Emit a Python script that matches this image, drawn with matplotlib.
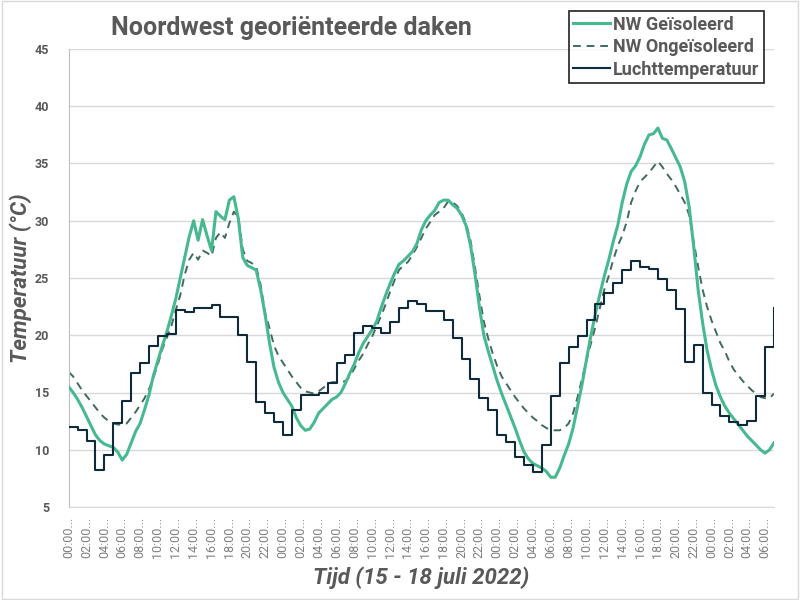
import numpy as np
import matplotlib
matplotlib.use("Agg")
import matplotlib.pyplot as plt
from matplotlib.patches import Rectangle

plt.rcParams['font.family'] = ['Roboto', 'DejaVu Sans']

# dakoppervlak temperaturen, elk half uur vanaf 15 juli 00:00
geisoleerd = [
    15.5, 15.0, 14.4, 13.7, 12.9, 12.1, 11.3, 10.8, 10.5, 10.35, 10.2, 9.8, 9.1, 9.6,
    10.6, 11.6, 12.3, 13.5, 14.8, 16.5, 17.8, 19.1, 20.3, 21.7, 23.2, 25.0, 26.8, 28.6,
    30.0, 28.3, 30.1, 28.7, 27.4, 30.8, 30.4, 30.1, 31.8, 32.1, 30.2, 26.8, 26.1, 25.9,
    25.7, 24.0, 21.8, 19.3, 17.2, 15.9, 15.0, 14.4, 13.8, 12.8, 12.1, 11.7, 11.8, 12.4,
    13.2, 13.6, 14.0, 14.4, 14.6, 15.0, 15.8, 16.7, 17.5, 18.5, 19.3, 19.9, 20.5, 21.2,
    22.4, 23.5, 24.5, 25.4, 26.2, 26.5, 26.9, 27.3, 28.0, 29.2, 30.0, 30.5, 30.9, 31.6,
    31.8, 31.8, 31.4, 31.1, 30.5, 29.6, 27.9, 25.4, 22.5, 20.0, 18.6, 17.3, 16.0, 14.9,
    13.9, 12.9, 11.9, 10.8, 9.8, 9.2, 8.8, 8.6, 8.4, 8.1, 7.6, 7.6, 8.4, 9.5,
    10.5, 11.9, 13.8, 15.7, 17.9, 20.0, 21.9, 23.6, 25.2, 26.6, 28.2, 29.6, 31.6, 33.2,
    34.3, 34.8, 35.6, 36.7, 37.5, 37.6, 38.1, 37.2, 37.05, 36.3, 35.5, 34.7, 33.4, 31.2,
    27.8, 24.0, 21.1, 18.7, 17.0, 15.6, 14.6, 13.8, 13.2, 12.7, 12.2, 11.7, 11.2, 10.8,
    10.4, 10.0, 9.7, 10.0, 10.6,
]
ongeisoleerd = [
    16.8, 16.4, 15.8, 15.2, 14.7, 14.2, 13.7, 13.2, 12.8, 12.5, 12.3, 12.2, 12.2, 12.3,
    12.8, 13.3, 13.9, 14.5, 15.3, 16.3, 17.5, 18.8, 19.8, 20.8, 22.2, 23.5, 25.3, 26.6,
    27.2, 26.6, 27.4, 27.2, 26.9, 28.5, 29.0, 28.5, 29.8, 30.8, 30.3, 27.5, 26.5, 26.3,
    26.0, 24.4, 22.0, 20.6, 19.1, 18.2, 17.6, 17.0, 16.4, 15.9, 15.4, 15.1, 15.0, 14.9,
    15.1, 15.4, 15.7, 15.9, 15.9, 15.9, 16.0, 16.4, 17.1, 17.8, 18.4, 19.2, 19.9, 20.8,
    21.7, 22.7, 23.8, 24.8, 25.7, 26.1, 26.4, 27.0, 27.7, 28.5, 29.3, 29.9, 30.5, 30.8,
    31.1, 31.7, 31.6, 31.3, 30.7, 29.8, 28.3, 26.0, 23.5, 21.2, 19.7, 18.4, 17.3, 16.4,
    15.8, 15.2, 14.6, 14.1, 13.6, 13.2, 12.8, 12.5, 12.15, 11.9, 11.7, 11.7, 11.7, 11.9,
    12.3, 13.2, 14.6, 16.2, 17.8, 19.3, 20.75, 22.4, 24.0, 25.2, 26.6, 27.8, 28.7, 29.9,
    31.6, 32.6, 33.4, 33.8, 34.2, 34.7, 35.2, 34.7, 34.1, 33.6, 33.0, 32.3, 31.6, 30.5,
    28.2, 26.0, 24.0, 22.5, 21.3, 20.3, 19.3, 18.6, 17.7, 17.0, 16.5, 16.0, 15.6, 15.2,
    14.9, 14.6, 14.5, 14.5, 14.9,
]
# luchttemperatuur, uurwaarden
lucht = [
    12.0, 11.7, 10.8, 8.2, 9.5, 12.3, 14.3, 16.7, 17.55, 19.05, 19.9, 20.1, 22.2, 22.0,
    22.35, 22.35, 22.6, 21.6, 21.6, 20.0, 17.7, 14.2, 13.2, 12.45, 11.3, 13.5, 14.8, 14.8,
    15.0, 15.8, 17.6, 18.3, 20.2, 20.8, 20.6, 20.2, 21.2, 22.35, 23.0, 22.7, 22.1, 22.1,
    21.3, 19.8, 17.9, 16.2, 14.5, 13.5, 11.3, 10.7, 9.4, 8.7, 8.1, 10.4, 14.7, 17.55,
    19.0, 19.9, 21.3, 22.7, 23.7, 24.55, 25.7, 26.5, 26.0, 25.8, 24.95, 23.95, 22.3, 17.7,
    19.15, 15.0, 13.9, 12.95, 12.45, 12.15, 12.5, 14.7, 19.0, 22.35,
]

uren_half = np.arange(len(geisoleerd)) * 0.5
uren = np.arange(len(lucht))
tick_uren = np.arange(0, 80, 2)
tick_labels = [f"{h % 24:02d}:00..." for h in tick_uren]

groen = "#47b98f"
donkergroen = "#3f6b5d"
navy = "#0f2b3b"
grijs = "#595959"

fig = plt.figure(figsize=(8, 6), dpi=100)
ax = fig.add_axes([68.66 / 800, 1 - 507 / 600, (774 - 68.66) / 800, (507 - 49) / 600])

ax.plot(uren_half, geisoleerd, color=groen, lw=2.2, label="NW Geïsoleerd", zorder=3)
ax.plot(uren_half, ongeisoleerd, color=donkergroen, lw=1.4, ls=(0, (4, 3)),
        label="NW Ongeïsoleerd", zorder=2)
ax.plot(uren, lucht, color=navy, lw=1.5, drawstyle="steps-post",
        label="Luchttemperatuur", zorder=4)

ax.set_xlim(0, 79)
ax.set_ylim(5, 45)
ax.set_yticks(range(5, 50, 5))
ax.set_xticks(tick_uren)
ax.set_xticklabels(tick_labels, rotation=90, color="#808080", fontsize=9)
for t in ax.get_yticklabels():
    t.set_fontweight("bold")
ax.tick_params(axis="y", length=0, pad=14, labelsize=9, labelcolor=grijs)
ax.tick_params(axis="x", length=0, pad=7)

ax.grid(axis="y", color="#d9d9d9", lw=1)
ax.set_axisbelow(True)
for s in ["top", "right"]:
    ax.spines[s].set_visible(False)
ax.spines["left"].set_color("#bfbfbf")
ax.spines["bottom"].set_color("#d9d9d9")

ax.set_ylabel("Temperatuur (°C)", fontsize=16, fontweight="bold", fontstyle="italic",
              color=grijs, labelpad=2)
ax.set_xlabel("Tijd (15 - 18 juli 2022)", fontsize=16, fontweight="bold", fontstyle="italic",
              color=grijs, labelpad=6)

fig.text(291 / 800, 1 - 28 / 600, "Noordwest georiënteerde daken", fontsize=18,
         fontweight="bold", color=grijs, ha="center", va="center")

leg = fig.legend(loc="upper right", bbox_to_anchor=(764 / 800, 1 - 11 / 600),
                 fontsize=13, frameon=True, fancybox=False, handlelength=2.0,
                 handletextpad=0.2, labelspacing=0.25, borderpad=0.25, borderaxespad=0)
leg.get_frame().set_edgecolor("black")
leg.get_frame().set_linewidth(1.3)
for t in leg.get_texts():
    t.set_color(grijs)
    t.set_fontweight("bold")

fig.patches.append(Rectangle((0.002, 0.002), 0.996, 0.996, transform=fig.transFigure,
                             fill=False, edgecolor="#d9d9d9", lw=1))

fig.savefig("out.png", dpi=100)
